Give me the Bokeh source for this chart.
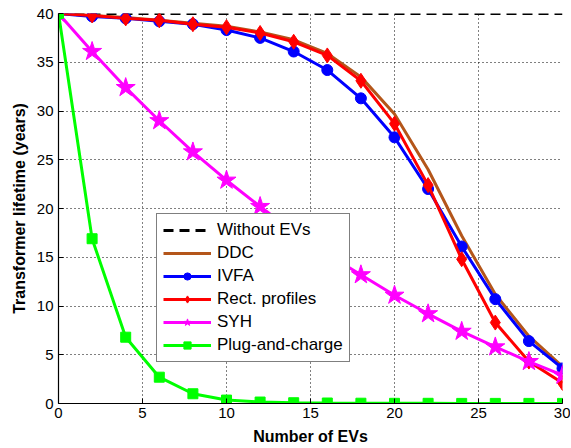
from bokeh.plotting import figure
from bokeh.models import Range1d, Legend, LegendItem, FixedTicker
from bokeh.embed import file_html
from bokeh.resources import INLINE

num_evs = [0, 2, 4, 6, 8, 10, 12, 14, 16, 18, 20, 22, 24, 26, 28, 30]
without_evs = [40] * len(num_evs)
ddc = [40, 39.8, 39.6, 39.3, 39.0, 38.7, 38.1, 37.3, 35.9, 33.5, 29.7, 24.0, 17.2, 11.2, 6.9, 3.8]
ivfa = [40, 39.7, 39.5, 39.2, 38.9, 38.3, 37.5, 36.1, 34.2, 31.3, 27.3, 22.0, 16.1, 10.7, 6.4, 3.6]
rect = [40, 39.8, 39.5, 39.3, 38.9, 38.6, 38.0, 37.1, 35.7, 33.1, 28.7, 22.4, 14.8, 8.3, 4.3, 2.1]
syh = [40, 36.1, 32.4, 29.0, 25.8, 22.9, 20.2, 17.6, 15.3, 13.2, 11.1, 9.2, 7.4, 5.8, 4.3, 2.9]
plug = [40, 16.9, 6.8, 2.7, 1.0, 0.35, 0.15, 0.08, 0.05, 0.03, 0.02, 0.02, 0.01, 0.01, 0.01, 0.01]
x_ticks = [0, 5, 10, 15, 20, 25, 30]
y_ticks = [0, 5, 10, 15, 20, 25, 30, 35, 40]

FONT = "Liberation Sans"

p = figure(width=570, height=447, output_backend="svg", toolbar_location=None,
           x_range=Range1d(0, 30), y_range=Range1d(0, 40),
           min_border_left=58, min_border_right=8, min_border_top=13, min_border_bottom=44)
p.outline_line_color = None
p.background_fill_color = "white"

for ax in (p.xaxis[0], p.yaxis[0]):
    ax.axis_line_color = "black"
    ax.axis_line_width = 1.2
    ax.major_tick_in = 5
    ax.major_tick_out = 0
    ax.minor_tick_line_color = None
    ax.major_label_text_font = FONT
    ax.major_label_text_font_size = "15px"
    ax.major_label_text_color = "black"
    ax.axis_label_text_font = FONT
    ax.axis_label_text_font_size = "16px"
    ax.axis_label_text_font_style = "bold"
    ax.axis_label_text_color = "black"

p.xaxis.ticker = FixedTicker(ticks=x_ticks)
p.yaxis.ticker = FixedTicker(ticks=y_ticks)
p.xaxis.axis_label = "Number of EVs"
p.yaxis.axis_label = "Transformer lifetime (years)"
p.xaxis.major_label_standoff = 4
p.yaxis.major_label_standoff = 5
p.xaxis.axis_label_standoff = 7
p.yaxis.axis_label_standoff = 6

p.grid.grid_line_color = "black"
p.grid.grid_line_dash = "1 3"
p.grid.grid_line_width = 1

lw = 3
r_wo = p.line(num_evs, without_evs, line_color="black", line_width=lw, line_dash="10 6")
r_ddc = p.line(num_evs, ddc, line_color="#B4561A", line_width=lw)
r_ivfa_l = p.line(num_evs, ivfa, line_color="#0000FF", line_width=lw)
r_ivfa_m = p.scatter(num_evs, ivfa, marker="circle", size=11, fill_color="#0000FF", line_color="#0000FF")
r_rect_l = p.line(num_evs, rect, line_color="#FF0000", line_width=lw)
r_rect_m = p.scatter(num_evs, rect, marker="diamond", size=15, fill_color="#FF0000", line_color="#FF0000")
r_syh_l = p.line(num_evs, syh, line_color="#FF00FF", line_width=lw)
r_syh_m = p.scatter(num_evs, syh, marker="star", size=20, fill_color="#FF00FF", line_color="#FF00FF")
r_plug_l = p.line(num_evs, plug, line_color="#00FF00", line_width=lw)
r_plug_m = p.scatter(num_evs, plug, marker="square", size=10, fill_color="#00FF00", line_color="#00FF00")

legend = Legend(items=[
    LegendItem(label="Without EVs", renderers=[r_wo]),
    LegendItem(label="DDC", renderers=[r_ddc]),
    LegendItem(label="IVFA", renderers=[r_ivfa_l, r_ivfa_m]),
    LegendItem(label="Rect. profiles", renderers=[r_rect_l, r_rect_m]),
    LegendItem(label="SYH", renderers=[r_syh_l, r_syh_m]),
    LegendItem(label="Plug-and-charge", renderers=[r_plug_l, r_plug_m]),
], location=(98, 41))
legend.label_text_font = FONT
legend.label_text_font_size = "17px"
legend.label_text_color = "black"
legend.glyph_width = 48
legend.glyph_height = 18
legend.spacing = 3
legend.padding = 6
legend.margin = 0
legend.label_standoff = 6
legend.border_line_color = "black"
legend.border_line_width = 1.2
legend.background_fill_alpha = 1.0
p.add_layout(legend, "center")

open("out.html", "w").write(file_html(p, INLINE))
